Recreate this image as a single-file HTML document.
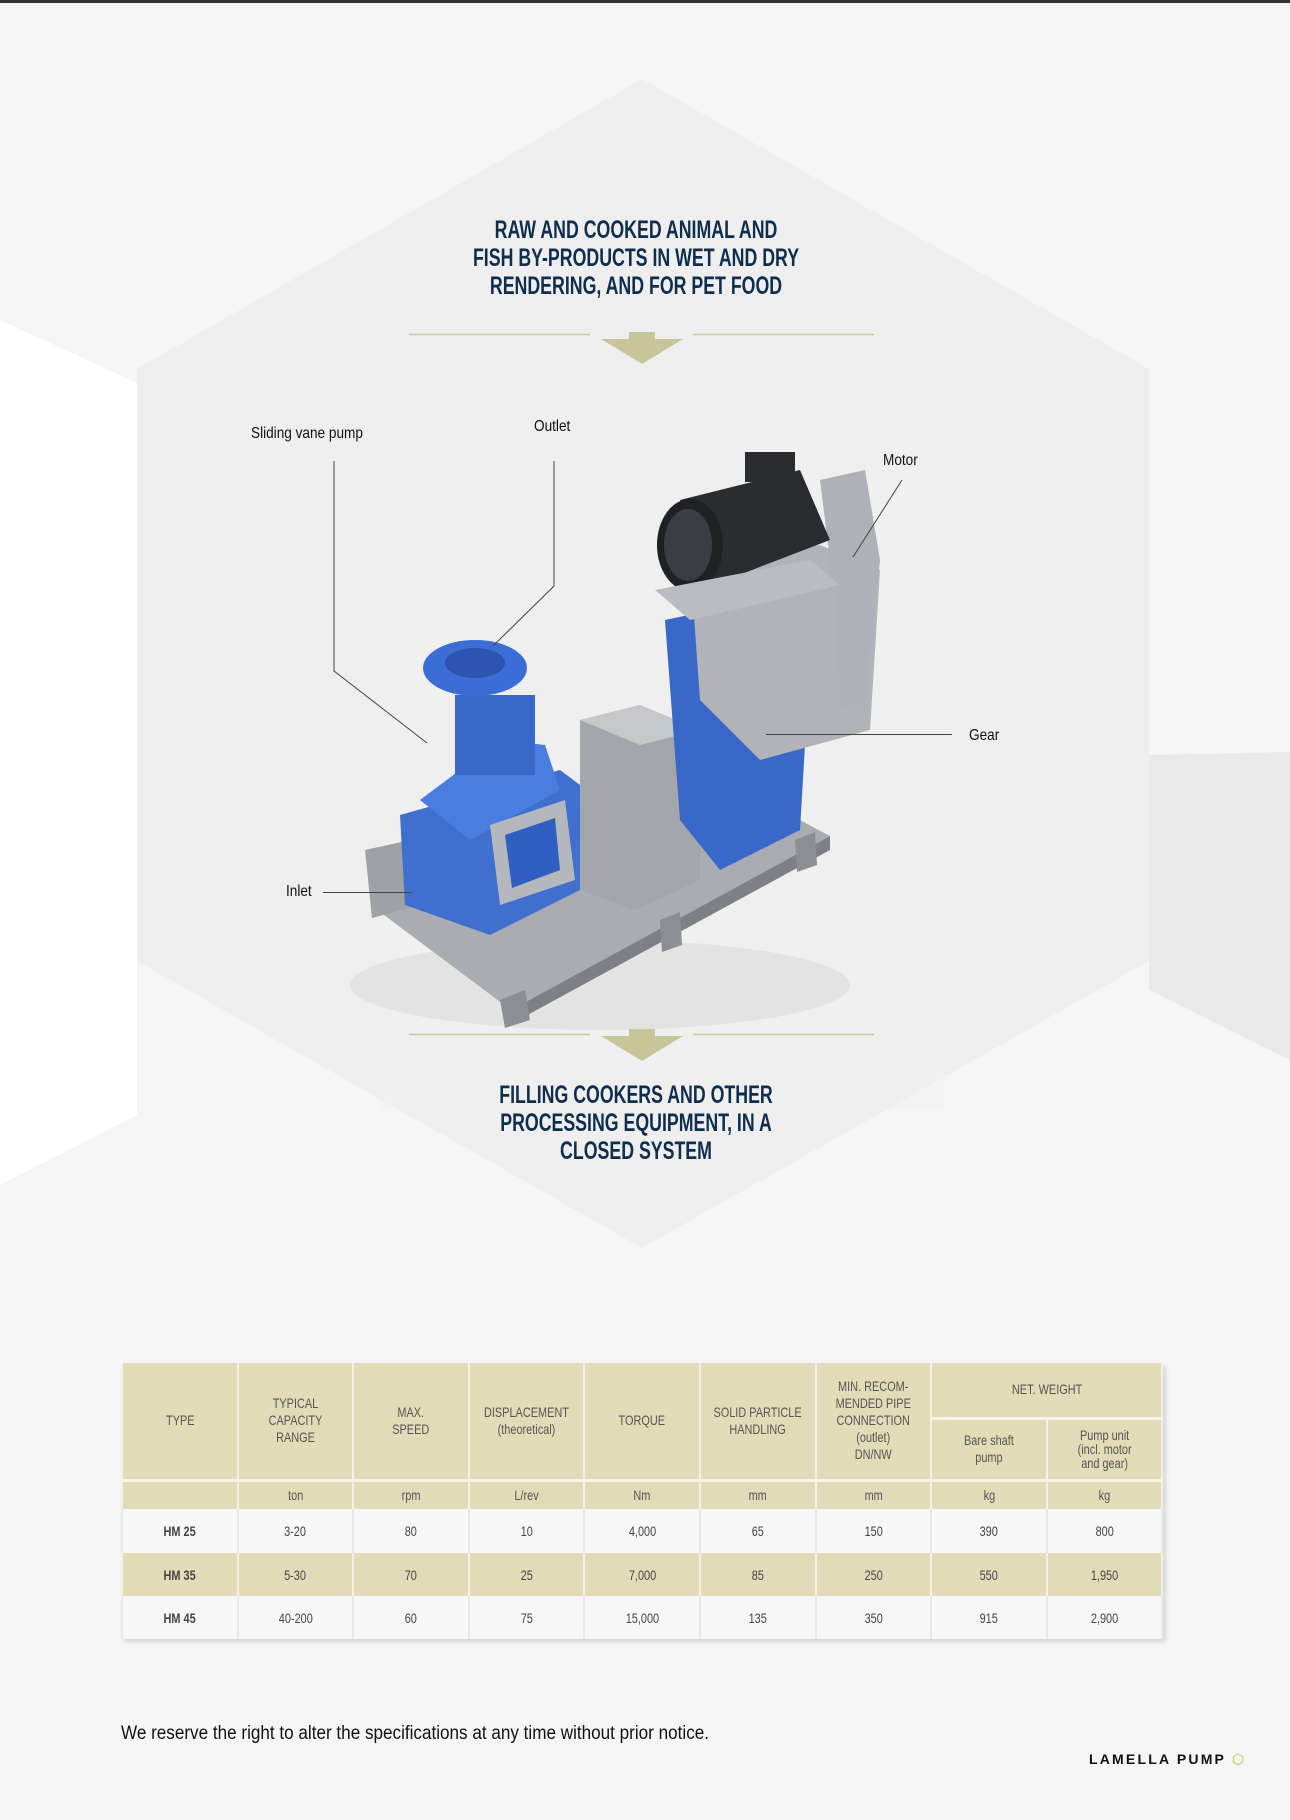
<!DOCTYPE html>
<html><head><meta charset="utf-8">
<style>
*{margin:0;padding:0;box-sizing:border-box}
body{width:1290px;height:1820px;background:#f5f5f5;position:relative;overflow:hidden;font-family:"Liberation Sans",sans-serif}
.abs{position:absolute}
.title{position:absolute;left:-9px;width:1290px;text-align:center;color:#0f2d4c;font-weight:bold;font-size:25px;line-height:28px;transform:scaleX(0.71);transform-origin:645px 0}
.lbl{position:absolute;font-size:16px;color:#111;transform:scaleX(0.85);transform-origin:0 0}
table{position:absolute;left:121px;top:1363px;width:1041px;border-collapse:collapse;table-layout:fixed;color:#444;font-size:14px;text-align:center;box-shadow:3px 3px 4px rgba(0,0,0,0.12)}
td{border:2px solid #f3f1e4;border-top:none;border-bottom:none;padding:0;vertical-align:middle;white-space:nowrap}
td span{display:inline-block;transform:scaleX(0.78)}
.h td{background:#e1dcb7;color:#555;font-size:14px;line-height:17px}
.r1 td{background:#f7f7f7;border-color:#e8e8e8}
.r2 td{background:#e1dcb7}
.bt td{border-top:3px solid #f5f3e6}
</style></head><body>
<div class="abs" style="left:0;top:0;width:1290px;height:3px;background:#333"></div>
<svg class="abs" style="left:0;top:0" width="1290" height="1820">
 <polygon points="0,320 137,383 137,1115 0,1185" fill="#ffffff"/>
 <polygon points="1149,755 1290,752 1290,1060 1149,990" fill="#e9e9e9"/>
 <polygon points="642,79 1149,369 1149,961 642,1248 137,961 137,369" fill="#eeeeee"/>
 <polygon points="380,445 945,445 945,1110 380,1110" fill="#f0f1f1" opacity="0.35"/>
 <line x1="409" y1="334.5" x2="590" y2="334.5" stroke="#cfc89c" stroke-width="1.5"/>
 <line x1="693" y1="334.5" x2="874" y2="334.5" stroke="#cfc89c" stroke-width="1.5"/>
 <rect x="629" y="332" width="26" height="8" fill="#c9c59a"/>
 <polygon points="601,339 683,339 642,364" fill="#c9c59a"/>
 <line x1="409" y1="1034.5" x2="590" y2="1034.5" stroke="#cfc89c" stroke-width="1.5"/>
 <line x1="693" y1="1034.5" x2="874" y2="1034.5" stroke="#cfc89c" stroke-width="1.5"/>
 <rect x="629" y="1029" width="26" height="8" fill="#c9c59a"/>
 <polygon points="601,1036 683,1036 642,1061" fill="#c9c59a"/>
 <ellipse cx="600" cy="985" rx="250" ry="45" fill="#d8d8d8" opacity="0.5"/>
 <polygon points="372,906 743,790 830,836 511,1010" fill="#a9acb1"/>
 <polygon points="511,1010 830,836 830,850 511,1024" fill="#7d8086"/>
 <polygon points="500,1000 525,990 530,1020 505,1028" fill="#8b8e93"/>
 <polygon points="660,920 680,912 682,945 662,952" fill="#8b8e93"/>
 <polygon points="795,840 815,832 817,865 797,872" fill="#8b8e93"/>
 <polygon points="365,850 410,840 420,905 372,918" fill="#9ea1a5"/>
 <polygon points="400,815 560,770 600,800 590,885 490,935 405,905" fill="#3f6fcf"/>
 <polygon points="420,800 500,740 545,745 560,790 470,840" fill="#4a7de0"/>
 <rect x="455" y="695" width="80" height="80" fill="#3a68c8"/>
 <ellipse cx="475" cy="668" rx="52" ry="28" fill="#3c6dd6"/>
 <ellipse cx="475" cy="663" rx="30" ry="15" fill="#2b55b0"/>
 <polygon points="490,825 565,800 575,880 500,905" fill="#b4b7bb"/>
 <polygon points="505,835 555,818 560,870 512,888" fill="#2f5fc0"/>
 <polygon points="575,800 615,790 625,870 585,885" fill="#3f6fcf"/>
 <polygon points="580,720 640,705 700,730 700,880 635,910 580,890" fill="#a3a6aa"/>
 <polygon points="580,720 640,705 700,730 640,745" fill="#c5c7ca"/>
 <polygon points="665,620 760,600 810,660 800,830 720,870 680,820" fill="#3a68c8"/>
 <polygon points="690,560 820,545 880,570 870,730 760,760 700,700" fill="#b0b3b7"/>
 <polygon points="820,480 865,470 880,560 865,700 840,710 835,600" fill="#aeb1b5"/>
 <polygon points="680,500 800,470 830,540 700,590" fill="#2a2c30"/>
 <ellipse cx="690" cy="545" rx="33" ry="46" fill="#1f2125"/>
 <ellipse cx="688" cy="545" rx="24" ry="36" fill="#3a3d42"/>
 <rect x="745" y="452" width="50" height="30" fill="#2a2c30"/>
 <polygon points="655,590 810,560 840,585 690,620" fill="#b9bcc0"/>
 <g stroke="#444" stroke-width="1" fill="none">
  <polyline points="334,461 334,671 427,743"/>
  <polyline points="554,461 554,586 493,646"/>
  <line x1="902" y1="480" x2="853" y2="557"/>
  <line x1="952" y1="734.5" x2="766" y2="734.5"/>
  <line x1="323" y1="892.5" x2="412" y2="892.5"/>
 </g>
</svg>
<div class="title" style="top:216px">RAW AND COOKED ANIMAL AND<br>FISH BY-PRODUCTS IN WET AND DRY<br>RENDERING, AND FOR PET FOOD</div>
<div class="title" style="top:1081px">FILLING COOKERS AND OTHER<br>PROCESSING EQUIPMENT, IN A<br>CLOSED SYSTEM</div>
<div class="lbl" style="left:251px;top:425px">Sliding vane pump</div>
<div class="lbl" style="left:534px;top:418px">Outlet</div>
<div class="lbl" style="left:883px;top:452px">Motor</div>
<div class="lbl" style="left:969px;top:727px">Gear</div>
<div class="lbl" style="left:286px;top:883px">Inlet</div>
<table>
<colgroup><col span="9" style="width:115.6px"></colgroup>
<tr class="h" style="height:55px"><td rowspan="2"><span>TYPE</span></td><td rowspan="2"><span>TYPICAL<br>CAPACITY<br>RANGE</span></td><td rowspan="2"><span>MAX.<br>SPEED</span></td><td rowspan="2"><span>DISPLACEMENT<br>(theoretical)</span></td><td rowspan="2"><span>TORQUE</span></td><td rowspan="2"><span>SOLID PARTICLE<br>HANDLING</span></td><td rowspan="2"><span>MIN. RECOM-<br>MENDED PIPE<br>CONNECTION<br>(outlet)<br>DN/NW</span></td><td colspan="2"><span>NET. WEIGHT</span></td></tr>
<tr class="h bt" style="height:62px"><td><span>Bare shaft<br>pump</span></td><td style="line-height:14px"><span>Pump unit<br>(incl. motor<br>and gear)</span></td></tr>
<tr class="h bt" style="height:29px"><td></td><td><span>ton</span></td><td><span>rpm</span></td><td><span>L/rev</span></td><td><span>Nm</span></td><td><span>mm</span></td><td><span>mm</span></td><td><span>kg</span></td><td><span>kg</span></td></tr>
<tr class="r1" style="height:44px"><td><span><b>HM 25</b></span></td><td><span>3-20</span></td><td><span>80</span></td><td><span>10</span></td><td><span>4,000</span></td><td><span>65</span></td><td><span>150</span></td><td><span>390</span></td><td><span>800</span></td></tr>
<tr class="r2" style="height:43px"><td><span><b>HM 35</b></span></td><td><span>5-30</span></td><td><span>70</span></td><td><span>25</span></td><td><span>7,000</span></td><td><span>85</span></td><td><span>250</span></td><td><span>550</span></td><td><span>1,950</span></td></tr>
<tr class="r1" style="height:43px"><td><span><b>HM 45</b></span></td><td><span>40-200</span></td><td><span>60</span></td><td><span>75</span></td><td><span>15,000</span></td><td><span>135</span></td><td><span>350</span></td><td><span>915</span></td><td><span>2,900</span></td></tr>
</table>
<div class="abs" style="left:121px;top:1723px;font-size:19px;color:#111;transform:scaleX(0.9);transform-origin:0 0;white-space:nowrap">We reserve the right to alter the specifications at any time without prior notice.</div>
<div class="abs" style="left:1089px;top:1751px;font-size:14px;font-weight:bold;letter-spacing:2.2px;color:#111;white-space:nowrap">LAMELLA PUMP <span style="color:#d8cf8a">⬡</span></div>
</body></html>
